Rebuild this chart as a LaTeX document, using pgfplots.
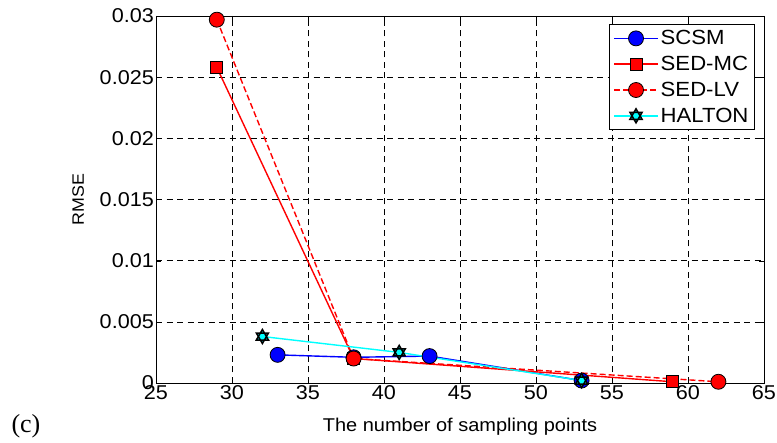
\documentclass[border=0pt]{standalone}
\usepackage{fontspec}
\setmainfont[FakeStretch=1.08]{Liberation Sans}
\newfontfamily\seriffont{Liberation Serif}
\usepackage{pgfplots}
\pgfplotsset{compat=1.18}
\definecolor{mcyan}{RGB}{0,255,255}
\pgfdeclareplotmark{hexstar}{%
  \pgfpathmoveto{\pgfqpointpolar{90}{\pgfplotmarksize}}%
  \pgfpathlineto{\pgfqpointpolar{210}{\pgfplotmarksize}}%
  \pgfpathlineto{\pgfqpointpolar{330}{\pgfplotmarksize}}%
  \pgfpathclose
  \pgfpathmoveto{\pgfqpointpolar{270}{\pgfplotmarksize}}%
  \pgfpathlineto{\pgfqpointpolar{30}{\pgfplotmarksize}}%
  \pgfpathlineto{\pgfqpointpolar{150}{\pgfplotmarksize}}%
  \pgfpathclose
  \pgfusepathqfillstroke}
\begin{document}
\begin{tikzpicture}[x=1pt,y=1pt]
\useasboundingbox (0,0) rectangle (777,443);
\begin{axis}[
  at={(156pt,60pt)}, anchor=south west,
  scale only axis, width=608pt, height=367pt,
  xmin=25, xmax=65, ymin=0, ymax=0.03,
  xtick={25,30,...,65},
  ytick={0,0.005,0.01,0.015,0.02,0.025,0.03},
  yticklabels={0,0.005,0.01,0.015,0.02,0.025,0.03},
  scaled y ticks=false,
  /pgf/number format/assume math mode=true,
  xticklabel style={font=\fontsize{20}{22}\selectfont, inner sep=1pt, yshift=-1.5pt},
  yticklabel style={font=\fontsize{20}{22}\selectfont, inner sep=2pt},
  xlabel={The number of sampling points},
  ylabel={RMSE},
  xlabel style={font=\fontsize{18.5}{20}\selectfont, at={(axis description cs:0.5,-0.12)}, anchor=center},
  ylabel style={font=\fontsize{16.5}{18}\selectfont, at={(axis description cs:-0.128,0.5)}, anchor=center},
  grid=major,
  major grid style={black, line width=0.5pt, dash pattern=on 6pt off 4.5pt},
  tick align=inside,
  major tick length=5pt,
  axis line style={black, line width=0.8pt},
  tick style={black},
  legend style={at={(0.985,0.978)}, anchor=north east, draw=black, line width=0.8pt,
    font=\fontsize{20.5}{22}\selectfont, row sep=6pt, inner sep=4pt,
    legend cell align=left},
  legend image code/.code={%
    \draw[mark repeat=2,mark phase=2] plot coordinates {(0pt,0pt) (22pt,0pt) (44pt,0pt)};},
]
\addplot[blue, line width=1.4pt, mark=*, mark size=7.5pt, mark options={solid, fill=blue, draw=black, line width=0.8pt}]
  coordinates {(33,0.0023) (38,0.0021) (43,0.0022) (53,0.0002)};
\addlegendentry{SCSM}
\addplot[red, line width=1.4pt, mark=square*, mark size=6pt, mark options={solid, fill=red, draw=black, line width=0.8pt}]
  coordinates {(29,0.0258) (38,0.0020) (59,0.0001)};
\addlegendentry{SED-MC}
\addplot[red, line width=1.4pt, dash pattern=on 6pt off 3pt, mark=*, mark size=7.5pt, mark options={solid, fill=red, draw=black, line width=0.8pt}]
  coordinates {(29,0.0297) (38,0.0020) (62,0.0001)};
\addlegendentry{SED-LV}
\addplot[mcyan, line width=1.4pt, mark=hexstar, mark size=7pt, mark options={solid, fill=mcyan, draw=black, line width=1.5pt}]
  coordinates {(32,0.0038) (41,0.0025) (53,0.0002)};
\addlegendentry{HALTON}
\end{axis}
\node[font=\seriffont\fontsize{26}{28}\selectfont, anchor=base west] at (8,10) {(c)};
\end{tikzpicture}
\end{document}
